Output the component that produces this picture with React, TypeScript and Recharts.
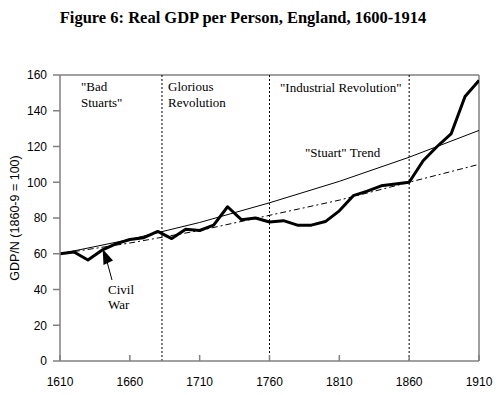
import React from "react";
import {
  LineChart,
  Line,
  XAxis,
  YAxis,
  ReferenceLine,
} from "recharts";

const years = [
  1610, 1620, 1630, 1640, 1650, 1660, 1670, 1680, 1690, 1700, 1710, 1720, 1730,
  1740, 1750, 1760, 1770, 1780, 1790, 1800, 1810, 1820, 1830, 1840, 1850, 1860,
  1870, 1880, 1890, 1900, 1910,
];
const gdp = [
  60, 61, 56.5, 62, 65.5, 68, 69, 72.5, 68.5, 73.7, 73, 76, 86.3, 79, 80, 77.8,
  78.5, 76, 76, 78, 84, 92.5, 95, 98, 99, 100, 112, 120, 127, 148, 157,
];

const trendYears = [1610, 1660, 1710, 1760, 1810, 1860, 1910];
const stuartTrend = [60, 68, 77.5, 88.5, 100.5, 114, 129];
const dashTrend = [60, 66, 73, 81.5, 90, 100, 110];

const xTicks = [1610, 1660, 1710, 1760, 1810, 1860, 1910];
const yTicks = [0, 20, 40, 60, 80, 100, 120, 140, 160];
const eraLines = [1683, 1760, 1860];

const gdpData = years.map((year, i) => ({ year, value: gdp[i] }));
const stuartData = trendYears.map((year, i) => ({ year, value: stuartTrend[i] }));
const dashData = trendYears.map((year, i) => ({ year, value: dashTrend[i] }));

const serif = "'Liberation Serif', 'Times New Roman', serif";
const sans = "'Liberation Sans', Arial, sans-serif";
const axisGrey = "#808080";

export default function App() {
  return (
    <div style={{ position: "absolute", left: 0, top: 0, width: 500, height: 395, background: "#fff" }}>
      <div
        style={{
          position: "absolute",
          left: 0,
          top: 8,
          width: 486,
          textAlign: "center",
          fontFamily: serif,
          fontWeight: "bold",
          fontSize: 16.5,
          color: "#000",
        }}
      >
        Figure 6: Real GDP per Person, England, 1600-1914
      </div>
      <LineChart width={500} height={395} margin={{ top: 75, right: 21, bottom: 4, left: 10 }}>
        <XAxis
          dataKey="year"
          type="number"
          domain={[1610, 1910]}
          ticks={xTicks}
          allowDataOverflow
          stroke={axisGrey}
          strokeWidth={1.5}
          tickSize={-6}
          tickMargin={22}
          height={30}
          tick={{ fill: "#000", fontSize: 12, fontFamily: sans }}
        />
        <YAxis
          type="number"
          domain={[0, 160]}
          ticks={yTicks}
          width={50}
          stroke={axisGrey}
          strokeWidth={1.5}
          tickSize={7}
          tickMargin={6}
          tick={{ fill: "#000", fontSize: 12, fontFamily: sans }}
          label={{
            value: "GDP/N (1860-9 = 100)",
            angle: -90,
            position: "insideLeft",
            offset: 5,
            style: { fill: "#000", fontSize: 12.5, fontFamily: sans, textAnchor: "middle" },
          }}
        />
        <ReferenceLine y={160} stroke={axisGrey} strokeWidth={1.5} />
        <ReferenceLine x={1910} stroke={axisGrey} strokeWidth={1.5} />
        {eraLines.map((x) => (
          <ReferenceLine key={x} x={x} stroke="#000" strokeWidth={1} strokeDasharray="2 2" />
        ))}
        <Line
          data={stuartData}
          dataKey="value"
          stroke="#000"
          strokeWidth={1}
          dot={false}
          isAnimationActive={false}
        />
        <Line
          data={dashData}
          dataKey="value"
          stroke="#000"
          strokeWidth={1}
          strokeDasharray="6 3 2 3"
          dot={false}
          isAnimationActive={false}
        />
        <Line
          data={gdpData}
          dataKey="value"
          stroke="#000"
          strokeWidth={3}
          strokeLinejoin="round"
          dot={false}
          isAnimationActive={false}
        />
      </LineChart>
      <svg
        width={500}
        height={395}
        style={{ position: "absolute", left: 0, top: 0, pointerEvents: "none" }}
        fontFamily={serif}
        fontSize={13}
      >
        <text x={81} y={91}>"Bad</text>
        <text x={81} y={107}>Stuarts"</text>
        <text x={168} y={91}>Glorious</text>
        <text x={168} y={107}>Revolution</text>
        <text x={280} y={92}>"Industrial Revolution"</text>
        <text x={305} y={157}>"Stuart" Trend</text>
        <text x={108} y={294}>Civil</text>
        <text x={108} y={309}>War</text>
        <line x1={112} y1={280} x2={106} y2={258} stroke="#000" strokeWidth={1} />
        <polygon points="102.7,249 103.5,265 113,260.5" fill="#000" />
      </svg>
    </div>
  );
}
